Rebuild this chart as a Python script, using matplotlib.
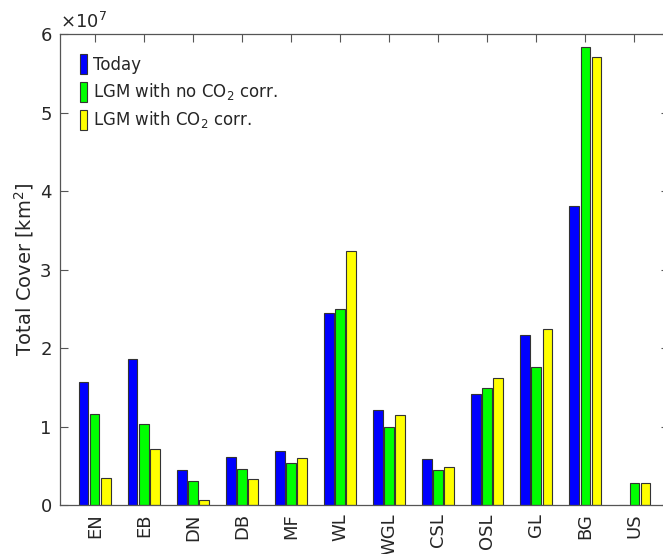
import numpy as np
import matplotlib
matplotlib.use("Agg")
import matplotlib.pyplot as plt

# biome cover, units of 1e7 km^2
biomes = ["EN", "EB", "DN", "DB", "MF", "WL", "WGL", "CSL", "OSL", "GL", "BG", "US"]
today = [1.57, 1.86, 0.44, 0.61, 0.69, 2.44, 1.21, 0.59, 1.42, 2.16, 3.81, 0.0]
lgm_no_co2 = [1.16, 1.03, 0.31, 0.46, 0.54, 2.50, 0.99, 0.44, 1.49, 1.76, 5.83, 0.28]
lgm_co2 = [0.35, 0.71, 0.07, 0.33, 0.60, 3.24, 1.15, 0.49, 1.62, 2.24, 5.71, 0.28]
labels = ["Today", r"LGM with no CO$_2$ corr.", r"LGM with CO$_2$ corr."]
colors = ["#0000ff", "#00ff00", "#ffff00"]

plt.rcParams["font.family"] = "DejaVu Sans"
txt = "#262626"

fig = plt.figure(figsize=(6.63, 5.54), dpi=100)
# axes runs a little past the right edge of the figure, as in the original
ax = fig.add_axes([0.0905, 0.0884, 0.9186, 0.8502])
ax.set_axisbelow(True)

x = np.arange(1, len(biomes) + 1)
w = 0.19
off = 0.225
for i, (vals, lab, c) in enumerate(zip([today, lgm_no_co2, lgm_co2], labels, colors)):
    ax.bar(x + (i - 1) * off, vals, width=w, color=c, edgecolor="#333333",
           linewidth=0.8, label=lab)

ax.set_xlim(0.29, 12.71)
ax.set_ylim(0, 6)
ax.set_xticks(x)
ax.set_xticklabels(biomes, rotation=90, fontsize=13, color=txt)
ax.set_yticks(range(7))
ax.set_yticklabels([str(v) for v in range(7)], fontsize=13, color=txt)
ax.tick_params(direction="in", length=6, width=0.8, color="#555555",
               top=True, right=True, pad=6)
for s in ax.spines.values():
    s.set_color("#555555")
    s.set_linewidth(0.9)
ax.set_ylabel(r"Total Cover [km$^2$]", fontsize=14, color=txt, labelpad=3)
ax.text(0.0, 1.005, r"$\times10^7$", transform=ax.transAxes, fontsize=13,
        color=txt, ha="left", va="bottom")

leg = ax.legend(loc="upper left", frameon=False, fontsize=12,
                handlelength=0.4, handleheight=1.5, handletextpad=0.35,
                labelspacing=0.42, borderaxespad=0.8)
for t in leg.get_texts():
    t.set_color(txt)

fig.savefig("out.png", dpi=100)
